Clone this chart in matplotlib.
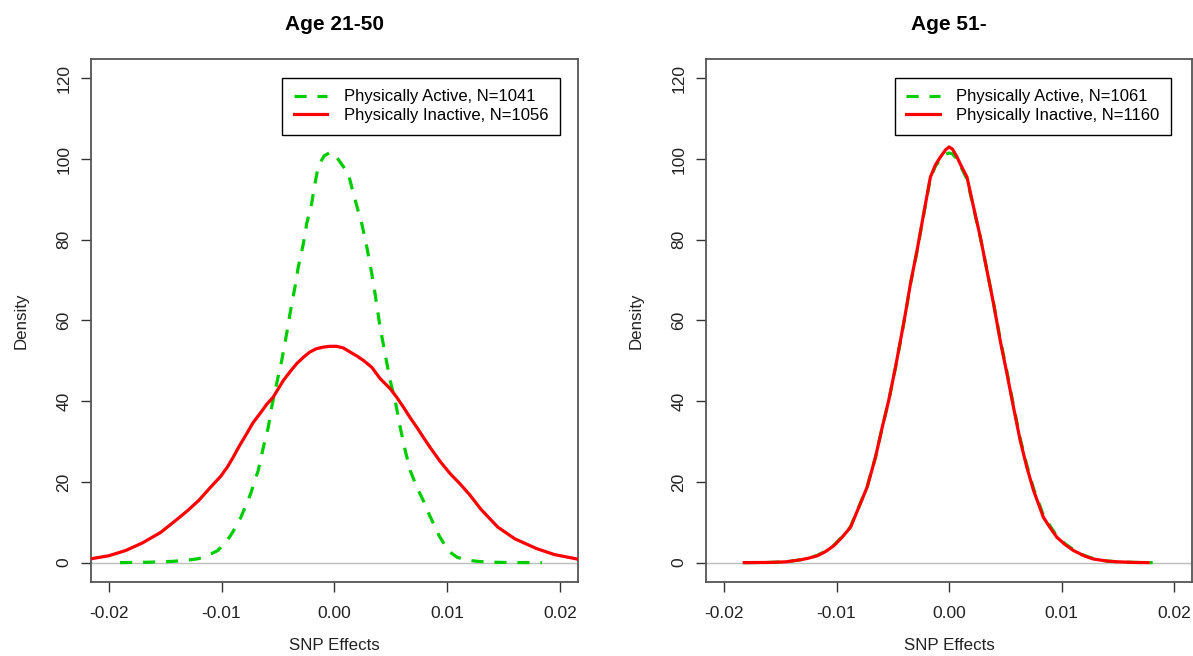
import numpy as np
import matplotlib
matplotlib.use("Agg")
from matplotlib import pyplot as plt

plt.rcParams['font.family'] = ['Liberation Sans', 'DejaVu Sans']

# Age 21-50, physically active (density)
young_active_x = [-0.0190, -0.0165, -0.01441, -0.0130, -0.01202, -0.0112, -0.01033,
                  -0.0098, -0.0093, -0.0088, -0.00829, -0.0079, -0.00743,
                  -0.00675, -0.0063, -0.00586, -0.00556, -0.00512, -0.00467, -0.00423,
                  -0.00393, -0.00349, -0.0032, -0.00275, -0.00245, -0.00201, -0.00171,
                  -0.00142, -0.0009, -0.0004, 0.0000, 0.0005, 0.00124, 0.00169, 0.00243,
                  0.00288, 0.00332, 0.00361, 0.00406, 0.0045, 0.00495, 0.00539, 0.00584,
                  0.00628, 0.00673, 0.0073, 0.00788, 0.0083, 0.00873, 0.0093, 0.00992,
                  0.0104, 0.0109, 0.0118, 0.01276, 0.0140, 0.0155, 0.0184]
young_active_y = [0.0, 0.1, 0.3, 0.6, 1.0, 1.8, 3.0,
                  4.6, 6.3, 8.5, 11.2, 13.8, 17.0,
                  22.8, 28.5, 33.5, 38.5, 44.3, 50.0, 56.7,
                  61.7, 68.3, 73.2, 79.0, 84.0, 89.0, 94.0,
                  98.3, 100.8, 101.6, 101.3, 99.3, 96.4, 91.4, 84.0,
                  78.2, 71.6, 66.6, 58.3, 51.7, 45.1, 40.2, 33.5,
                  27.8, 22.8, 18.8, 15.4, 12.6, 10.0, 6.6, 3.8,
                  2.3, 1.3, 0.6, 0.3, 0.1, 0.03, 0.0]

# Age 21-50, physically inactive
young_inactive_x = [-0.0217, -0.0200, -0.0185, -0.0170, -0.01539, -0.0140, -0.0130,
                    -0.01202, -0.0110, -0.01010, -0.00950, -0.00897, -0.00840, -0.00778,
                    -0.0072, -0.0066, -0.0060, -0.00542, -0.00453, -0.00390, -0.00334,
                    -0.00270, -0.00216, -0.00160, -0.00098, -0.0004, 0.0002, 0.0008,
                    0.00139, 0.0020, 0.00258, 0.00332, 0.00406, 0.00495, 0.0055,
                    0.00613, 0.0067, 0.00732, 0.0079, 0.0085, 0.0094, 0.01028,
                    0.01115, 0.0120, 0.0130, 0.01449, 0.0160, 0.01791, 0.0195, 0.0217]
young_inactive_y = [0.9, 1.7, 3.0, 4.9, 7.5, 10.6, 12.9,
                    15.4, 18.6, 21.3, 23.6, 26.1, 29.0, 31.9,
                    34.7, 36.9, 39.2, 41.0, 45.1, 47.4, 49.3,
                    51.0, 52.2, 53.0, 53.4, 53.6, 53.6, 53.2,
                    52.2, 51.2, 50.1, 48.4, 45.6, 43.1, 41.1,
                    38.5, 36.0, 33.5, 31.0, 28.5, 25.0, 22.0,
                    19.5, 16.8, 13.2, 8.8, 5.9, 3.5, 2.0, 0.8]

# Age 51-, physically active
old_active_x = [-0.0182, -0.0160, -0.0145, -0.0132, -0.0125, -0.01171, -0.0110,
                -0.01024, -0.0095, -0.00876, -0.00802,
                -0.00728, -0.00654, -0.00594, -0.00536, -0.00476, -0.00432, -0.00388,
                -0.00343, -0.00284, -0.00225, -0.00166, -0.0012, -0.00077, -0.0003,
                0.0, 0.0003, 0.00071, 0.0011,
                0.0016, 0.00218, 0.00278, 0.00337, 0.00396, 0.00455, 0.00515,
                0.00573, 0.00633, 0.00692, 0.00751, 0.00839, 0.0090, 0.00958, 0.0103,
                0.01106, 0.0120, 0.01283, 0.0140, 0.0150, 0.0165, 0.0181]
old_active_y = [0.0, 0.05, 0.2, 0.7, 1.1, 1.8, 2.8,
                4.3, 6.4, 8.9, 13.8,
                18.8, 26.1, 33.4, 40.1, 48.3, 54.8, 61.5,
                69.0, 77.2, 86.3, 95.2, 98.3, 100.0, 101.2,
                101.5, 101.3, 100.0, 97.8,
                95.0, 87.8, 80.6, 72.5, 64.3, 55.3, 47.2,
                38.9, 30.7, 24.1, 18.4, 11.7, 9.0, 6.6, 4.7,
                3.2, 1.8, 1.0, 0.4, 0.2, 0.05, 0.0]

# Age 51-, physically inactive
old_inactive_x = [-0.0182, -0.0160, -0.0145, -0.0132, -0.0125, -0.01171, -0.0110,
                  -0.01024, -0.0095, -0.00876, -0.00802,
                  -0.00728, -0.00654, -0.00594, -0.00536, -0.00476, -0.00432, -0.00388,
                  -0.00343, -0.00284, -0.00225, -0.00166, -0.0012, -0.00077, -0.0003,
                  0.0, 0.0003, 0.00071, 0.0011,
                  0.0016, 0.00218, 0.00278, 0.00337, 0.00396, 0.00455, 0.00515,
                  0.00573, 0.00633, 0.00692, 0.00751, 0.00839, 0.0090, 0.00958, 0.0103,
                  0.01106, 0.0120, 0.01283, 0.0140, 0.0150, 0.0165, 0.0177]
old_inactive_y = [0.0, 0.05, 0.2, 0.7, 1.1, 1.7, 2.7,
                  4.2, 6.3, 8.75, 13.7,
                  18.7, 26.1, 33.5, 40.2, 48.4, 55.0, 61.7,
                  69.1, 77.4, 86.5, 95.5, 98.6, 100.5, 102.3,
                  103.0, 102.5, 100.5, 98.2,
                  95.5, 88.1, 80.7, 72.4, 64.1, 55.0, 46.8,
                  38.5, 30.2, 23.6, 17.9, 11.2, 8.6, 6.3, 4.5,
                  3.0, 1.7, 0.9, 0.4, 0.2, 0.05, 0.0]

titles = ["Age 21-50", "Age 51-"]
active_labels = ["Physically Active, N=1041", "Physically Active, N=1061"]
inactive_labels = ["Physically Inactive, N=1056", "Physically Inactive, N=1160"]
x_ticks = [-0.02, -0.01, 0.00, 0.01, 0.02]
x_tick_labels = ["-0.02", "-0.01", "0.00", "0.01", "0.02"]
y_ticks = [0, 20, 40, 60, 80, 100, 120]

panels = [(young_active_x, young_active_y, young_inactive_x, young_inactive_y),
          (old_active_x, old_active_y, old_inactive_x, old_inactive_y)]

fig = plt.figure(figsize=(11.93, 6.56), dpi=100)
positions = [[0.0760, 0.1128, 0.4085, 0.7973], [0.5918, 0.1128, 0.4074, 0.7973]]
legend_anchor = [(0.963, 0.964), (0.957, 0.964)]

for i, (ax_pos, data) in enumerate(zip(positions, panels)):
    ax = fig.add_axes(ax_pos)
    ax_x, ax_y, in_x, in_y = data
    ax.axhline(0, color="#BEBEBE", lw=1.0, zorder=1)
    ax.plot(ax_x, ax_y, color="#00CD00", lw=2.3, dashes=(3.8, 3.4),
            label=active_labels[i], zorder=2)
    ax.plot(in_x, in_y, color="#FF0000", lw=2.3, label=inactive_labels[i], zorder=3)
    ax.set_xlim(-0.0216, 0.0216)
    ax.set_ylim(-4.8, 124.8)
    ax.set_xticks(x_ticks)
    ax.set_xticklabels(x_tick_labels)
    ax.set_yticks(y_ticks)
    ax.tick_params(axis="both", direction="out", length=7, width=1.0,
                   color="#333333", labelsize=12.5, labelcolor="#222222")
    ax.tick_params(axis="x", pad=10.5)
    ax.tick_params(axis="y", pad=7)
    plt.setp(ax.get_yticklabels(), rotation=90, va="center")
    for sp in ax.spines.values():
        sp.set_color("#555555")
        sp.set_linewidth(1.3)
    ax.set_title(titles[i], fontsize=15, fontweight="bold", pad=21)
    ax.set_xlabel("SNP Effects", fontsize=12.2, labelpad=12, color="#222222")
    ax.set_ylabel("Density", fontsize=12.2, labelpad=20, color="#222222")
    leg = ax.legend(loc="upper right", bbox_to_anchor=legend_anchor[i], fontsize=12,
                    fancybox=False, framealpha=1, edgecolor="black", borderpad=0.7,
                    handlelength=2.0, handletextpad=1.0, labelspacing=0.22,
                    borderaxespad=0)
    leg.get_frame().set_linewidth(1.0)

plt.savefig("out.png", dpi=100)
